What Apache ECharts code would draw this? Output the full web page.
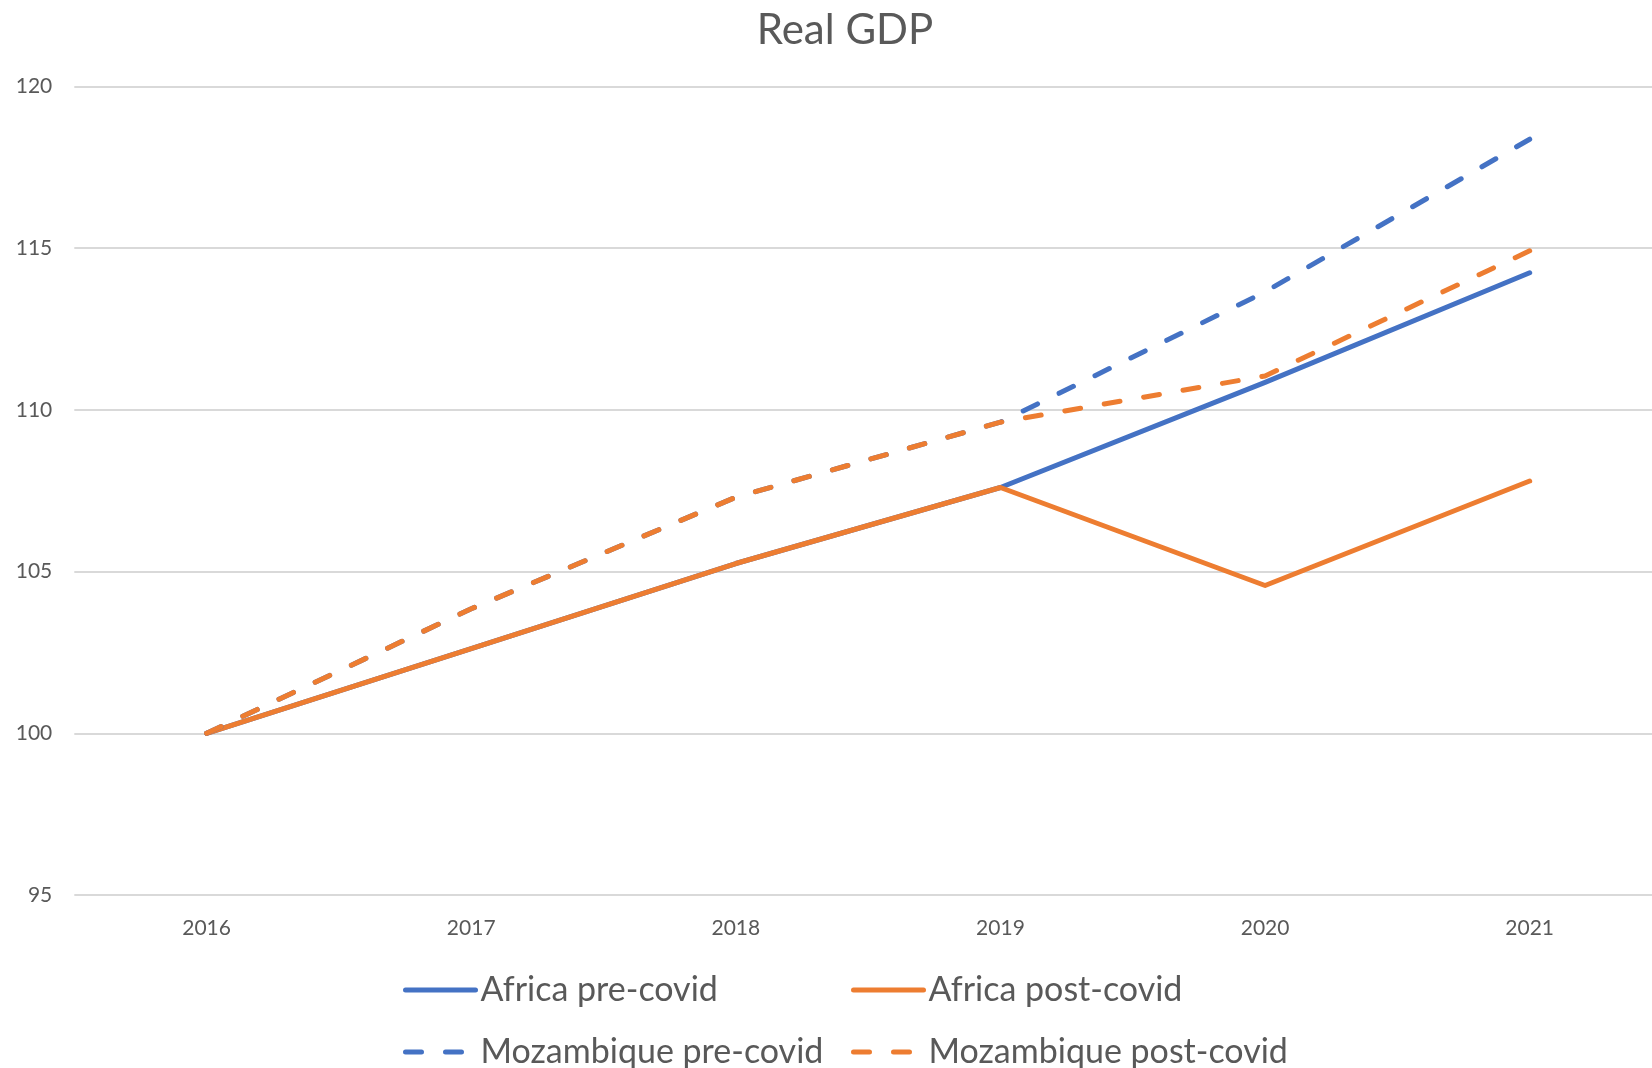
<!DOCTYPE html>
<html>
<head>
<meta charset="utf-8">
<script src="https://cdn.jsdelivr.net/npm/echarts@6/dist/echarts.min.js"></script>
<style>
html,body{margin:0;padding:0;background:#fff;overflow:hidden;}
#c{width:1662px;height:1120px;}
</style>
</head>
<body>
<div id="c"></div>
<script>
const years = ['2016','2017','2018','2019','2020','2021'];
const africaPre = [100, 102.62, 105.25, 107.6, 110.85, 114.24];
const africaPost = [100, 102.62, 105.25, 107.6, 104.57, 107.8];
const mozPre = [100, 103.85, 107.3, 109.62, 113.65, 118.37];
const mozPost = [100, 103.85, 107.3, 109.62, 111.05, 114.92];
const yTicks = [95, 100, 105, 110, 115, 120];

const BLUE = '#4472C4', ORANGE = '#ED7D31';
const FONT = 'Lato';
const dash = [16, 24];

const chart = echarts.init(document.getElementById('c'));
function mk(name, data, color, dashed) {
  return {
    name, type: 'line', data,
    symbol: 'none', showSymbol: false,
    lineStyle: { color, width: 5, type: dashed ? dash : 'solid', cap: 'round', join: 'round' },
    itemStyle: { color },
    emphasis: { disabled: true }
  };
}
function legend(left, names) {
  return {
    orient: 'vertical', left, top: 973, itemWidth: 70, itemHeight: 14, itemGap: 28, padding: 0,
    itemStyle: { opacity: 0, borderWidth: 0 },
    lineStyle: { width: 5 },
    textStyle: { fontFamily: FONT, fontSize: 34, lineHeight: 30, color: '#595959' },
    selectedMode: false, data: names
  };
}
chart.setOption({
  animation: false,
  title: {
    text: 'Real GDP', left: 840, top: 4, textAlign: 'center',
    textStyle: { fontFamily: FONT, fontSize: 42, fontWeight: 'normal', color: '#595959' }
  },
  grid: { left: 74.3, right: 0, top: 86.5, bottom: 225, containLabel: false },
  legend: [
    legend(403, ['Africa pre-covid', 'Mozambique pre-covid']),
    legend(851, ['Africa post-covid', 'Mozambique post-covid'])
  ],
  xAxis: {
    type: 'category', data: years, boundaryGap: true,
    axisLine: { show: false }, axisTick: { show: false },
    axisLabel: { fontFamily: FONT, fontSize: 21, color: '#595959', margin: 23 }
  },
  yAxis: {
    type: 'value', min: yTicks[0], max: yTicks[yTicks.length - 1], interval: 5,
    axisLine: { show: false }, axisTick: { show: false },
    axisLabel: { fontFamily: FONT, fontSize: 21, color: '#595959', margin: 22 },
    splitLine: { lineStyle: { color: '#D9D9D9', width: 2 } }
  },
  series: [
    mk('Africa pre-covid', africaPre, BLUE, false),
    mk('Africa post-covid', africaPost, ORANGE, false),
    mk('Mozambique pre-covid', mozPre, BLUE, true),
    mk('Mozambique post-covid', mozPost, ORANGE, true)
  ]
});
</script>
</body>
</html>
